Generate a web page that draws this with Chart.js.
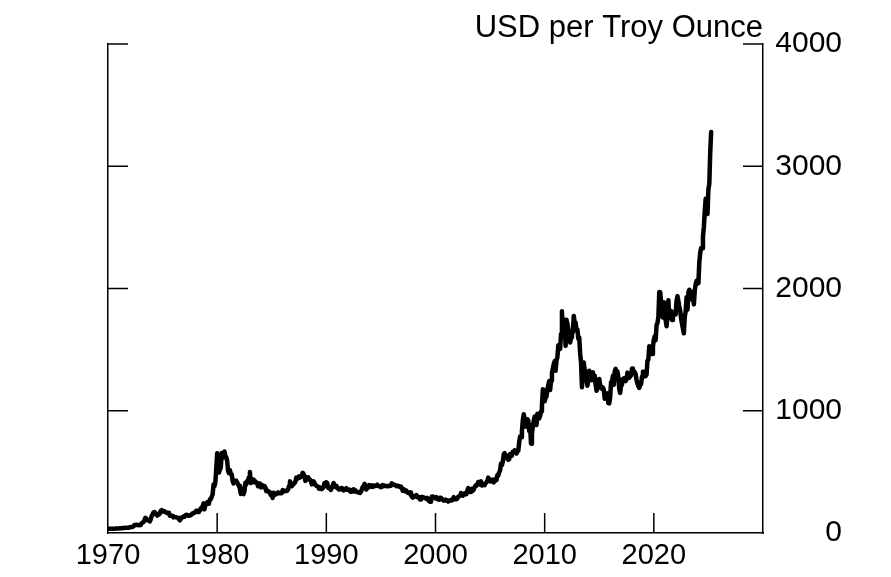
<!DOCTYPE html>
<html lang="en">
<head>
  <meta charset="UTF-8" />
  <title>Gold price, USD per Troy Ounce</title>
  <script src="https://cdn.jsdelivr.net/npm/chart.js"></script>
  <style>
    body {
      margin: 0;
      background: #fff;
    }
    #chart {
      display: block;
    }
  </style>
</head>
<body>
  <canvas id="chart" width="891" height="577"></canvas>

  <script>
    // month-end gold price, USD per troy ounce, Jan 1970 onwards
    const startYear = 1970;
    const prices1970s = [
      34.9, 35.0, 35.1, 35.8, 35.5, 35.4, 35.3, 35.4, 36.2, 37.5, 37.4, 37.4,
      37.9, 38.9, 38.9, 39.5, 40.5, 40.1, 41.0, 42.7, 42.0, 42.9, 42.9, 43.6,
      46.8, 48.3, 48.3, 49.0, 54.6, 65.1, 65.7, 67.0, 65.5, 64.9, 62.9, 64.9,
      65.1, 80.0, 84.4, 90.5, 102.0, 123.3, 120.2, 106.8, 103.0, 100.1, 94.8, 112.3,
      139.3, 150.2, 168.4, 172.2, 163.3, 154.1, 143.0, 154.6, 151.8, 158.8, 181.7, 186.5,
      176.3, 179.6, 178.2, 169.9, 167.4, 164.2, 165.2, 163.1, 141.3, 142.8, 138.2, 140.3,
      128.2, 132.3, 129.6, 128.2, 126.0, 123.8, 112.5, 104.0, 116.0, 123.2, 130.3, 134.5,
      132.3, 142.8, 148.9, 147.2, 143.0, 140.8, 144.1, 145.0, 154.1, 161.5, 160.5, 164.9,
      173.2, 182.3, 181.6, 170.9, 184.0, 183.1, 200.3, 208.7, 217.1, 242.6, 193.4, 226.0,
      233.7, 251.3, 240.1, 245.3, 274.6, 277.5, 296.5, 315.1, 397.3, 382.0, 415.7, 524.0
    ];
    const prices1980s = [
      653.0, 637.0, 494.5, 518.0, 535.5, 653.5, 614.3, 631.3, 666.8, 629.0, 619.8, 589.8,
      506.5, 489.0, 513.8, 482.8, 479.3, 426.0, 406.0, 425.5, 428.8, 427.0, 414.5, 397.5,
      387.0, 362.6, 320.0, 361.3, 325.3, 317.5, 342.8, 411.5, 397.0, 423.3, 436.0, 456.9,
      499.5, 408.5, 414.8, 429.3, 437.5, 416.0, 422.0, 414.3, 405.0, 382.0, 405.0, 382.4,
      373.8, 394.3, 388.5, 375.8, 384.3, 373.1, 342.4, 348.3, 344.3, 333.5, 329.0, 309.0,
      306.7, 287.8, 329.8, 321.4, 314.0, 317.8, 327.5, 333.3, 326.1, 325.5, 324.9, 327.0,
      350.5, 338.3, 344.0, 345.5, 343.3, 345.5, 357.5, 384.7, 423.2, 401.0, 383.5, 390.9,
      405.5, 405.9, 421.4, 453.3, 451.0, 447.3, 462.5, 453.4, 459.5, 468.8, 492.5, 484.1,
      458.0, 426.2, 457.0, 449.0, 455.5, 436.6, 437.4, 427.8, 397.7, 412.4, 422.6, 410.2,
      394.0, 387.0, 383.2, 377.6, 361.4, 373.0, 368.3, 359.8, 366.5, 375.3, 408.2, 401.0
    ];
    const prices1990s = [
      415.1, 407.7, 368.5, 367.8, 363.1, 352.2, 372.3, 387.8, 408.4, 379.5, 384.9, 386.2,
      366.0, 362.7, 355.7, 357.8, 366.0, 368.4, 362.9, 347.4, 354.9, 357.5, 366.3, 353.2,
      354.1, 353.4, 341.7, 336.4, 337.5, 343.4, 357.9, 340.0, 349.0, 339.3, 334.2, 333.0,
      330.5, 327.6, 337.8, 354.3, 377.5, 378.5, 401.8, 371.6, 355.5, 369.6, 370.9, 391.8,
      377.9, 381.6, 389.2, 376.5, 387.6, 388.3, 383.9, 385.8, 394.9, 389.1, 383.1, 383.3,
      374.9, 376.4, 392.0, 389.8, 384.3, 387.1, 383.4, 382.4, 384.0, 382.7, 387.8, 387.0,
      405.6, 400.7, 396.4, 392.9, 390.6, 382.0, 385.3, 386.6, 379.0, 379.5, 371.3, 369.3,
      345.5, 358.6, 348.2, 340.2, 345.6, 334.6, 326.4, 325.4, 332.1, 311.4, 296.8, 290.2,
      302.5, 297.4, 301.0, 310.7, 293.6, 296.3, 288.9, 273.4, 293.9, 292.3, 294.7, 287.5,
      285.4, 287.1, 279.5, 286.6, 268.6, 261.0, 255.6, 254.8, 299.0, 299.1, 291.4, 290.3
    ];
    const prices2000s = [
      283.3, 293.7, 276.8, 275.1, 272.3, 288.2, 276.8, 277.0, 273.7, 264.5, 269.1, 272.7,
      264.5, 266.7, 257.7, 263.2, 267.5, 270.6, 265.9, 273.0, 293.1, 278.8, 275.5, 276.5,
      282.3, 296.9, 301.4, 308.2, 326.6, 318.5, 304.7, 312.8, 323.7, 316.9, 317.7, 347.2,
      367.5, 347.5, 334.9, 336.8, 361.4, 346.0, 354.8, 375.6, 388.0, 386.3, 398.4, 416.3,
      399.8, 395.9, 423.7, 388.5, 393.3, 395.8, 391.4, 407.3, 415.7, 425.6, 453.4, 435.6,
      422.2, 435.5, 427.5, 435.7, 414.5, 437.1, 429.0, 433.3, 473.3, 470.8, 495.7, 513.0,
      568.8, 556.0, 582.0, 644.0, 653.0, 613.5, 632.5, 623.5, 599.3, 603.8, 646.7, 632.0,
      650.5, 664.2, 661.8, 677.0, 659.1, 650.5, 665.5, 672.0, 742.8, 789.5, 783.5, 833.8,
      923.3, 971.5, 933.5, 871.0, 885.8, 930.3, 918.0, 833.0, 884.5, 730.8, 814.5, 869.8,
      919.5, 952.0, 916.5, 883.3, 975.5, 934.5, 939.0, 955.5, 995.8, 1040.0, 1175.8, 1087.5
    ];
    const prices2010s = [
      1078.5, 1109.5, 1115.5, 1179.3, 1207.5, 1244.0, 1169.0, 1246.0, 1307.0, 1346.8, 1383.5, 1405.5,
      1327.0, 1411.0, 1439.0, 1535.5, 1536.5, 1505.5, 1628.5, 1813.5, 1620.0, 1722.0, 1746.0, 1531.0,
      1744.0, 1711.0, 1662.5, 1651.3, 1558.0, 1598.5, 1622.0, 1648.5, 1776.0, 1719.0, 1721.0, 1657.5,
      1664.8, 1588.5, 1598.3, 1469.0, 1394.5, 1192.0, 1314.5, 1394.8, 1326.5, 1324.0, 1253.0, 1204.5,
      1251.0, 1326.5, 1291.8, 1288.5, 1250.5, 1315.0, 1285.3, 1285.8, 1216.5, 1164.3, 1182.8, 1206.0,
      1260.3, 1214.0, 1187.0, 1180.3, 1190.5, 1171.0, 1098.4, 1135.0, 1115.5, 1142.4, 1061.9, 1060.0,
      1111.8, 1234.9, 1237.0, 1285.7, 1212.1, 1320.8, 1342.0, 1311.4, 1322.5, 1272.0, 1178.1, 1145.9,
      1212.8, 1255.6, 1244.9, 1266.5, 1266.2, 1242.3, 1257.5, 1311.8, 1283.1, 1270.2, 1280.2, 1291.0,
      1345.1, 1317.9, 1323.9, 1315.1, 1298.5, 1250.5, 1223.6, 1201.6, 1187.3, 1215.0, 1217.6, 1279.0,
      1319.8, 1319.1, 1295.4, 1283.5, 1295.6, 1409.0, 1419.7, 1528.4, 1485.3, 1510.9, 1463.6, 1523.0
    ];
    const prices2020s = [
      1582.8, 1609.9, 1577.2, 1702.8, 1715.9, 1768.1, 1971.0, 1970.3, 1886.9, 1879.9, 1762.6, 1887.6,
      1863.0, 1743.3, 1691.1, 1767.9, 1902.9, 1763.2, 1807.8, 1814.9, 1742.8, 1781.1, 1785.0, 1805.9,
      1788.2, 1900.7, 1937.4, 1896.8, 1848.4, 1817.0, 1753.1, 1711.0, 1671.8, 1633.6, 1768.5, 1812.4,
      1928.5, 1826.9, 1969.3, 1990.1, 1977.0, 1912.3, 1970.5, 1942.3, 1870.1, 1983.8, 2036.4, 2062.4,
      2039.5, 2044.3, 2214.4, 2291.0, 2331.5, 2330.0, 2426.0, 2503.4, 2629.8, 2734.9, 2662.8, 2610.0,
      2812.5, 2858.7, 3115.1, 3280.2
    ];

    const xTicks = [1970, 1980, 1990, 2000, 2010, 2020];
    const yTicks = [0, 1000, 2000, 3000, 4000];
    const xMin = 1970, xMax = 2030;
    const yMin = 0, yMax = 4000;
    const unitLabel = "USD per Troy Ounce";

    const prices = [].concat(prices1970s, prices1980s, prices1990s, prices2000s, prices2010s, prices2020s);
    const points = prices.map((p, i) => ({ x: startYear + i / 12, y: p }));

    const FONT = "'Liberation Sans', Arial, Helvetica, sans-serif";

    // inward tick marks on all three axes, plus the unit label
    const innerTicks = {
      id: "innerTicks",
      afterDatasetsDraw(chart) {
        const { ctx, chartArea, scales } = chart;
        const len = 20;
        ctx.save();
        ctx.strokeStyle = "#000";
        ctx.lineWidth = 1.5;
        ctx.beginPath();
        xTicks.forEach(v => {
          if (v <= xMin || v >= xMax) return;
          const px = scales.x.getPixelForValue(v);
          ctx.moveTo(px, chartArea.bottom);
          ctx.lineTo(px, chartArea.bottom - len);
        });
        yTicks.forEach(v => {
          if (v <= yMin) return;
          const py = scales.y.getPixelForValue(v);
          ctx.moveTo(chartArea.left, py);
          ctx.lineTo(chartArea.left + len, py);
          ctx.moveTo(chartArea.right, py);
          ctx.lineTo(chartArea.right - len, py);
        });
        ctx.stroke();
        ctx.restore();
      },
      afterDraw(chart) {
        const { ctx, chartArea } = chart;
        ctx.save();
        ctx.fillStyle = "#000";
        ctx.font = "31px " + FONT;
        ctx.textAlign = "right";
        ctx.textBaseline = "alphabetic";
        ctx.fillText(unitLabel, chartArea.right, 37);
        ctx.restore();
      }
    };

    const axisBorder = { display: true, color: "#000", width: 1.5 };
    const noGrid = { drawOnChartArea: false, drawTicks: false };

    new Chart(document.getElementById("chart").getContext("2d"), {
      type: "line",
      data: {
        datasets: [{
          data: points,
          borderColor: "#000",
          borderWidth: 4.5,
          pointRadius: 0,
          tension: 0,
          borderJoinStyle: "round",
          borderCapStyle: "round",
          yAxisID: "y"
        }]
      },
      options: {
        responsive: false,
        animation: false,
        layout: { padding: { top: 44, right: 49 } },
        plugins: {
          legend: { display: false },
          tooltip: { enabled: false },
          title: { display: false }
        },
        scales: {
          x: {
            type: "linear",
            min: xMin,
            max: xMax,
            grid: noGrid,
            border: axisBorder,
            afterBuildTicks: s => { s.ticks = xTicks.map(v => ({ value: v })); },
            afterFit: s => { s.height = 44; },
            ticks: {
              autoSkip: false,
              maxRotation: 0,
              padding: 6,
              color: "#000",
              font: { family: FONT, size: 29 },
              callback: v => String(v)
            }
          },
          y: {
            position: "left",
            min: yMin,
            max: yMax,
            grid: noGrid,
            border: axisBorder,
            ticks: { display: false },
            afterFit: s => { s.width = 108; }
          },
          y2: {
            position: "right",
            min: yMin,
            max: yMax,
            grid: noGrid,
            border: axisBorder,
            afterBuildTicks: s => { s.ticks = yTicks.map(v => ({ value: v })); },
            afterFit: s => { s.width = 79; },
            ticks: {
              crossAlign: "far",
              padding: 10,
              color: "#000",
              font: { family: FONT, size: 30 },
              callback: v => String(v)
            }
          }
        }
      },
      plugins: [innerTicks]
    });
  </script>
</body>
</html>
